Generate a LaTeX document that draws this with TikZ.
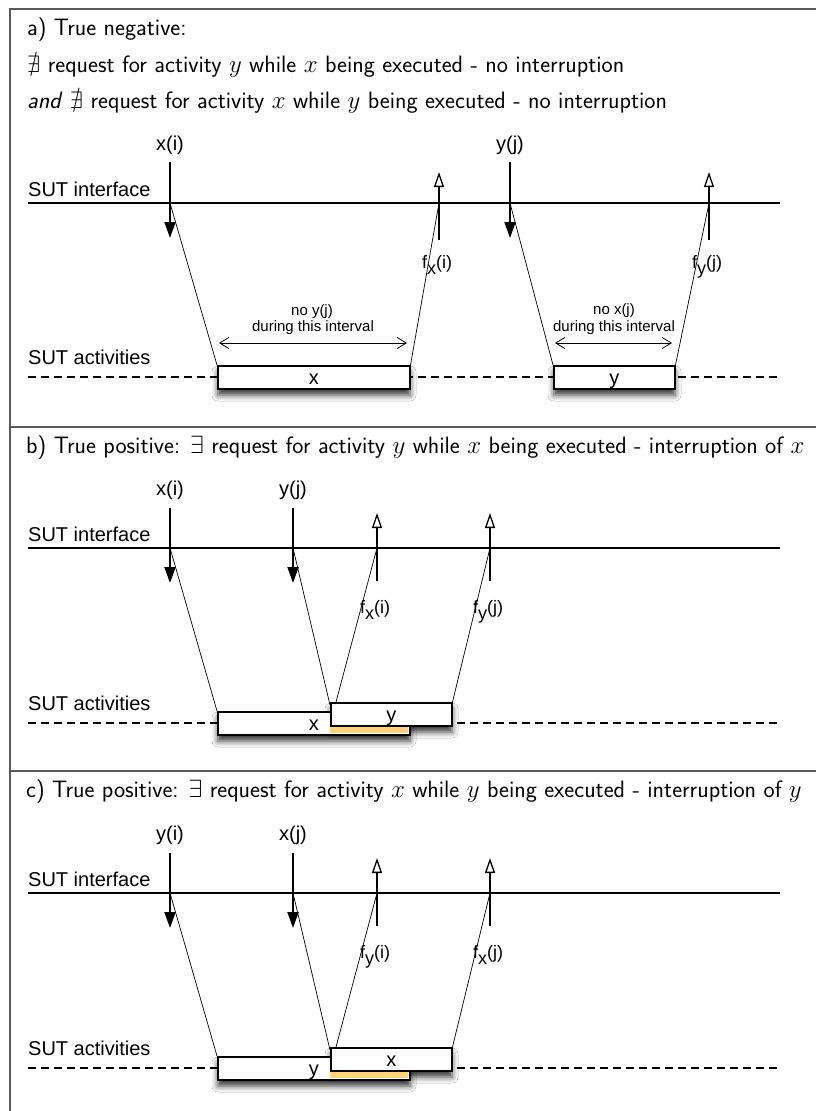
\documentclass[tikz,border=0pt]{standalone}
\usepackage{amssymb}
\usepackage{fontspec}
\newfontfamily\helv{Liberation Sans}
\usetikzlibrary{arrows.meta,shadows.blur,calc}
\definecolor{barorange}{RGB}{255,211,122}
\definecolor{framegray}{RGB}{90,90,90}

\tikzset{
  ttl/.style={anchor=base west, inner sep=0pt, font=\sffamily\fontsize{23.7}{28}\selectfont},
  lab/.style={inner sep=0pt, font=\helv\fontsize{20}{24}\selectfont},
  flab/.style={inner sep=0pt, anchor=base west, font=\helv\fontsize{18}{20}\selectfont},
  note/.style={inner sep=0pt, anchor=base, font=\helv\fontsize{15}{17}\selectfont},
  req/.style={line width=1.9pt, -{Triangle[length=16pt,width=11pt,fill=black]}},
  ret/.style={line width=1.9pt, -{Triangle[open,fill=white,length=15pt,width=10pt,line width=1.3pt]}},
  slant/.style={line width=0.7pt},
  iface/.style={line width=1.4pt},
  actline/.style={line width=1.3pt, dash pattern=on 8pt off 5pt},
  actbox/.style={draw, line width=1.5pt, fill=white, inner sep=0pt, anchor=north west,
    text height=14pt, text depth=0pt, font=\helv\fontsize{20}{24}\selectfont},
  shade/.style={fill=white, blur shadow={shadow xshift=1pt, shadow yshift=-7pt, shadow blur radius=6pt, shadow opacity=80}},
  interval/.style={line width=0.8pt, {Straight Barb[length=9pt,width=11pt]}-{Straight Barb[length=9pt,width=11pt]}},
  frameline/.style={line width=1.3pt, draw=framegray},
}

\newcommand\panelbc[4]{%
  \begin{scope}[shift={(0,#1)}]
    \draw[iface] (28,203) -- (780,203);
    \node[lab, anchor=base west] (#2SI) at (28,196) {SUT interface};
    \node[lab, anchor=base west] (#2SA) at (28,365) {SUT activities};
    \draw[actline] (28,378) -- (780,378);
    \path[shade] (217,366) rectangle (409,389);
    \path[shade] (330,357) rectangle (451,380);
    \node[actbox, minimum width=192pt, minimum height=23pt] (#2L) at (217,366) {#3};
    \fill[barorange] (330,380.75) rectangle (408.25,388.25);
    \node[actbox, minimum width=121pt, minimum height=23pt] (#2S) at (330,357) {#4};
    \coordinate (#2A1s) at (170,163); \coordinate (#2A1e) at (170,238);
    \coordinate (#2A2s) at (293,163); \coordinate (#2A2e) at (293,238);
    \coordinate (#2R1s) at (377,236); \coordinate (#2R1e) at (377,168);
    \coordinate (#2R2s) at (490,236); \coordinate (#2R2e) at (490,168);
    \coordinate (#2P1) at (170,203); \coordinate (#2P2) at (293,203);
    \coordinate (#2P3) at (377,203); \coordinate (#2P4) at (490,203);
    \draw[req] (#2A1s) -- (#2A1e);
    \draw[req] (#2A2s) -- (#2A2e);
    \draw[ret] (#2R1s) -- (#2R1e);
    \draw[ret] (#2R2s) -- (#2R2e);
    \node[lab, anchor=base] (#2l1) at (170,150) {#3(i)};
    \node[lab, anchor=base] (#2l2) at (293,150) {#4(j)};
    \draw[slant] (#2P1) -- (#2L.north west);
    \draw[slant] (#2P2) -- ($(#2S.north west)+(0,3)$);
    \draw[slant] ($(#2S.north west)+(6,0)$) -- (#2P3);
    \draw[slant] (#2S.north east) -- (#2P4);
    \node[flab] (#2f1) at (360,268) {f\raisebox{-6pt}{#3}(i)};
    \node[flab] (#2f2) at (473,268) {f\raisebox{-6pt}{#4}(j)};
  \end{scope}}

\begin{document}
\begin{tikzpicture}[x=1pt,y=-1pt]
\useasboundingbox (0,0) rectangle (816,1111);
\fill[white] (0,0) rectangle (816,1111);

% frame
\coordinate (F0) at (10,9); \coordinate (F1) at (816,9);
\coordinate (F2) at (10,1111);
\coordinate (D1a) at (10,427); \coordinate (D1b) at (816,427);
\coordinate (D2a) at (10,771); \coordinate (D2b) at (816,771);
\draw[frameline] (F1) -- (F0) -- (F2);
\draw[frameline] (D1a) -- (D1b);
\draw[frameline] (D2a) -- (D2b);

% titles
\node[ttl] (ta1) at (27,35) {a) True negative:};
\node[ttl] (ta2) at (27,72) {$\nexists$ request for activity $y$ while $x$ being executed - no interruption};
\node[ttl] (ta3) at (27,108) {\textit{and} $\nexists$ request for activity $x$ while $y$ being executed - no interruption};
\node[ttl] (tb) at (26,453) {b) True positive: $\exists$ request for activity $y$ while $x$ being executed - interruption of $x$};
\node[ttl] (tc) at (26,797) {c) True positive: $\exists$ request for activity $x$ while $y$ being executed - interruption of $y$};

% panel a
\draw[iface] (28,203) -- (780,203);
\node[lab, anchor=base west] (aSI) at (28,196) {SUT interface};
\node[lab, anchor=base west] (aSA) at (28,364) {SUT activities};
\draw[actline] (28,377) -- (780,377);
\path[shade] (217,365) rectangle (409,388);
\path[shade] (553,365) rectangle (674,388);
\node[actbox, minimum width=192pt, minimum height=23pt] (aX) at (217,365) {x};
\node[actbox, minimum width=121pt, minimum height=23pt] (aY) at (553,365) {y};
\coordinate (aA1s) at (170,162); \coordinate (aA1e) at (170,238);
\coordinate (aA2s) at (510,162); \coordinate (aA2e) at (510,238);
\coordinate (aR1s) at (439,240); \coordinate (aR1e) at (439,172);
\coordinate (aR2s) at (709,240); \coordinate (aR2e) at (709,172);
\coordinate (aP1) at (170,203); \coordinate (aP2) at (439,203);
\coordinate (aP3) at (510,203); \coordinate (aP4) at (709,203);
\draw[req] (aA1s) -- (aA1e);
\draw[req] (aA2s) -- (aA2e);
\draw[ret] (aR1s) -- (aR1e);
\draw[ret] (aR2s) -- (aR2e);
\node[lab, anchor=base] (al1) at (170,150) {x(i)};
\node[lab, anchor=base] (al2) at (510,150) {y(j)};
\draw[slant] (aP1) -- (aX.north west);
\draw[slant] (aX.north east) -- (aP2);
\draw[slant] (aP3) -- (aY.north west);
\draw[slant] (aY.north east) -- (aP4);
\node[flab] (af1) at (422,268) {f\raisebox{-6pt}{x}(i)};
\node[flab] (af2) at (692,268) {f\raisebox{-6pt}{y}(j)};
\coordinate (aI1a) at (219,343); \coordinate (aI1b) at (407,343);
\coordinate (aI2a) at (555,343); \coordinate (aI2b) at (672,343);
\draw[interval] (aI1a) -- (aI1b);
\draw[interval] (aI2a) -- (aI2b);
\node[note] (an1) at (312,315) {no y(j)};
\node[note] (an2) at (313,331) {during this interval};
\node[note] (an3) at (614,314) {no x(j)};
\node[note] (an4) at (614,331) {during this interval};

% panels b and c
\panelbc{345}{b}{x}{y}
\panelbc{690}{c}{y}{x}
\end{tikzpicture}
\end{document}
